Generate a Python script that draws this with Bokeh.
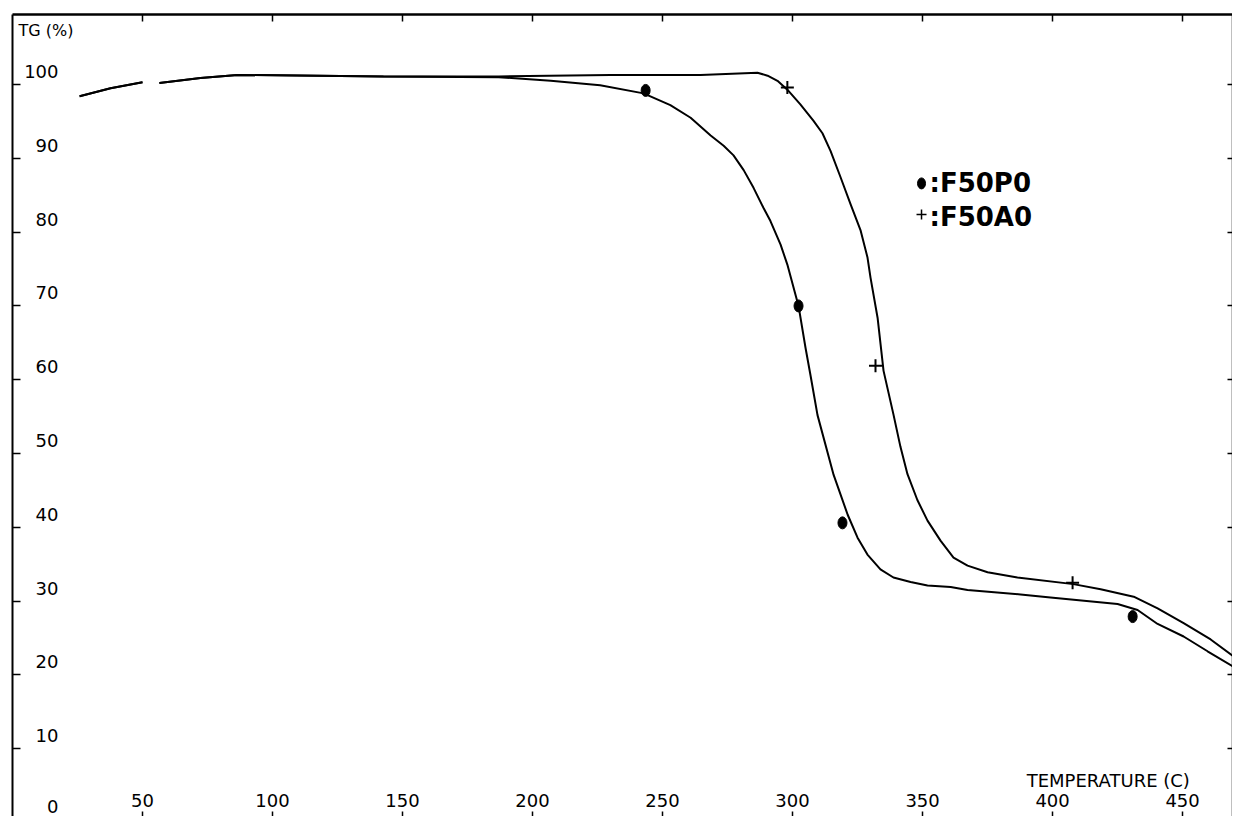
from bokeh.plotting import figure
from bokeh.models import Range1d, LinearAxis, FixedTicker
from bokeh.core.properties import value
from bokeh.embed import file_html
from bokeh.resources import INLINE

nan = float("nan")

# ---- data (temperature in C, TG in %) ----
temp_p0 = [25.8, 37.7, 50.0, nan, 56.5, 72.3, 86.5, 142.7, 187.0, 207.0, 226.0,
           242.7, 253.0, 260.8, 268.5, 273.5, 277.3, 281.2, 285.0, 288.8, 291.5,
           295.4, 298.0, 302.3, 305.0, 306.9, 309.6, 315.8, 321.2, 325.0, 328.8,
           333.8, 338.8, 345.4, 351.9, 360.8, 367.3, 387.7, 399.2, 425.0, 432.7,
           440.4, 450.4, 459.6, 469.6]
tg_p0 = [98.4, 99.5, 100.3, nan, 100.2, 100.9, 101.3, 101.1, 101.0, 100.5, 99.9,
         98.8, 97.2, 95.5, 93.1, 91.7, 90.4, 88.4, 86.0, 83.3, 81.5,
         78.3, 75.6, 70.0, 64.3, 60.6, 55.2, 47.1, 41.7, 38.6, 36.3,
         34.3, 33.2, 32.6, 32.1, 31.9, 31.5, 30.9, 30.5, 29.6, 28.8,
         26.9, 25.2, 23.2, 21.1]

temp_a0 = [25.8, 37.7, 50.0, nan, 56.5, 72.3, 86.5, 142.7, 187.0, 230.0, 264.6,
           286.5, 290.4, 294.2, 298.0, 303.0, 308.0, 311.5, 314.6, 318.5, 322.3,
           326.2, 328.8, 330.0, 332.7, 335.0, 338.8, 341.5, 344.2, 348.0, 351.9,
           356.9, 361.9, 367.3, 375.0, 386.5, 408.0, 418.5, 431.2, 440.4, 450.4,
           460.8, 469.6]
tg_a0 = [98.4, 99.5, 100.3, nan, 100.2, 100.9, 101.3, 101.1, 101.1, 101.3, 101.3,
         101.6, 101.2, 100.5, 99.3, 97.3, 95.1, 93.4, 91.0, 87.4, 83.8,
         80.2, 76.6, 73.8, 68.4, 61.2, 55.3, 50.9, 47.2, 43.7, 40.9,
         38.2, 35.9, 34.8, 33.9, 33.2, 32.3, 31.6, 30.6, 29.0, 27.0,
         24.8, 22.5]

mark_temp_p0 = [243.5, 302.3, 319.2, 430.8]
mark_tg_p0 = [99.2, 70.0, 40.6, 27.9]
mark_temp_a0 = [298.0, 331.9, 407.7]
mark_tg_a0 = [99.6, 61.9, 32.5]

series_names = ["F50P0", "F50A0"]
x_ticks = [50, 100, 150, 200, 250, 300, 350, 400, 450]
y_ticks = [0, 10, 20, 30, 40, 50, 60, 70, 80, 90, 100]
x_tick_labels = [str(t) for t in x_ticks]
y_tick_labels = [str(t) for t in y_ticks]
y_title = "TG  (%)"
x_title = "TEMPERATURE  (C)"

# ---- layout ----
X0, X1 = 0.0, 469.2
Y0, Y1 = 0.81, 109.49
FONT = value("DejaVu Sans")

p = figure(width=1232, height=816, output_backend="svg", toolbar_location=None,
           x_range=Range1d(X0, X1), y_range=Range1d(Y0, Y1),
           x_axis_location=None, y_axis_location=None,
           min_border_left=12, min_border_top=14, min_border_right=0, min_border_bottom=0,
           background_fill_color="white", border_fill_color="white")
p.outline_line_color = None
p.xgrid.visible = False
p.ygrid.visible = False


def make_axis(ticks, tick_in, line_color="black", line_width=2):
    return LinearAxis(ticker=FixedTicker(ticks=ticks, minor_ticks=[]),
                      major_tick_in=tick_in, major_tick_out=0,
                      minor_tick_in=0, minor_tick_out=0,
                      major_label_text_font_size="0px", major_label_text_color=None,
                      major_label_standoff=0,
                      axis_line_color=line_color, axis_line_width=line_width,
                      major_tick_line_color="black", major_tick_line_width=1.5)


p.add_layout(make_axis(y_ticks, 8), "left")
p.add_layout(make_axis(y_ticks, 5, line_width=1.5), "right")
p.add_layout(make_axis(x_ticks, 7, line_width=2.5), "above")
p.add_layout(make_axis(x_ticks, 5, line_color=None), "below")

# ---- curves ----
p.line(temp_p0, tg_p0, line_color="black", line_width=2)
p.line(temp_a0, tg_a0, line_color="black", line_width=2)

p.ellipse(mark_temp_p0, mark_tg_p0, width=9, height=12,
          width_units="screen", height_units="screen",
          fill_color="black", line_color="black")
p.scatter(mark_temp_a0, mark_tg_a0, marker="cross", size=13,
          line_color="black", line_width=2)

# ---- tick labels (inside the frame, as in the plotter output) ----
y_label_offsets = [-16 if t == 0 else -13 for t in y_ticks]
p.text(x=[X0] * len(y_ticks), y=y_ticks, text=y_tick_labels,
       x_offset=46, y_offset=y_label_offsets, text_align="right",
       text_baseline="alphabetic",
       text_font=FONT, text_font_size="18px", text_color="black")
p.text(x=x_ticks, y=[0] * len(x_ticks), text=x_tick_labels,
       y_offset=-22, text_align="center", text_baseline="alphabetic",
       text_font=FONT, text_font_size="18px", text_color="black")

p.text(x=[X0], y=[Y1], text=[y_title], x_offset=6, y_offset=16,
       text_align="left", text_baseline="alphabetic",
       text_font=FONT, text_font_size="16px", text_color="black")
p.text(x=[x_ticks[-1]], y=[0], text=[x_title], x_offset=13, y_offset=-42,
       text_align="right", text_baseline="alphabetic",
       text_font=FONT, text_font_size="18px", text_color="black")

# ---- legend (plotter style text) ----
leg_x = 349.6
p.ellipse([leg_x], [86.6], width=8, height=11, width_units="screen",
          height_units="screen", fill_color="black", line_color="black")
p.scatter([leg_x], [82.4], marker="cross", size=10, line_color="black", line_width=1.5)
p.text(x=[leg_x, leg_x], y=[86.6, 82.1], text=[":" + n for n in series_names],
       x_offset=8, text_align="left", text_baseline="alphabetic",
       text_font=FONT, text_font_style="bold", text_font_size="26px", text_color="black")

open("out.html", "w").write(file_html(p, INLINE))
